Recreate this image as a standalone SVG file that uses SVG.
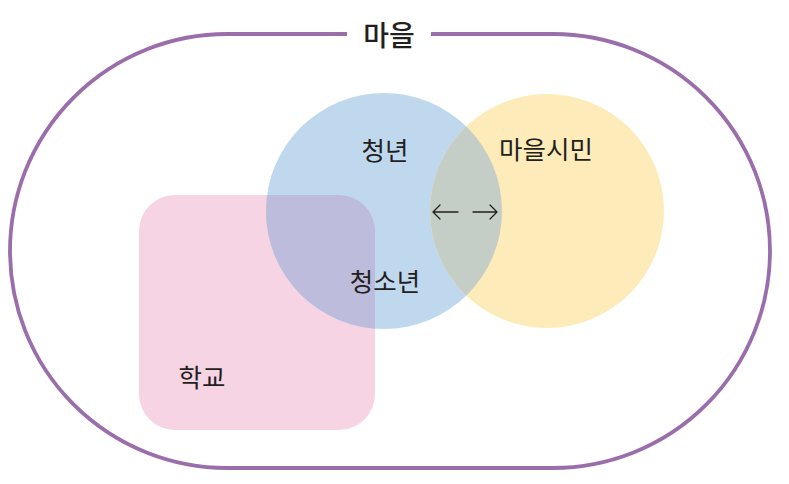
<svg xmlns="http://www.w3.org/2000/svg" width="789" height="484" viewBox="0 0 789 484">
<style>
.lbl{font-family:"Noto Sans CJK KR","Noto Sans",sans-serif;font-size:25.5px;fill:#231f20;text-anchor:middle;dominant-baseline:central}
.title{font-size:28px;font-weight:500}
.arr{fill:none;stroke:#231f20;stroke-width:1.3;stroke-linecap:round;stroke-linejoin:round}
</style>
<defs>
<clipPath id="cBlue"><circle cx="384" cy="211" r="118"/></clipPath>
</defs>
<rect width="789" height="484" fill="#ffffff"/>
<g id="village">
<path d="M347 34 H227 A217 217 0 0 0 227 468 H553 A217 217 0 0 0 553 34 H431" fill="none" stroke="#9a6dab" stroke-width="3.8"/>
<text class="lbl title" x="389" y="34">마을</text>
</g>
<g id="school">
<rect x="139" y="195" width="236" height="235" rx="36" fill="#f6d4e4"/>
</g>
<g id="youth">
<circle cx="384" cy="211" r="118" fill="#c0d8ee"/>
<rect x="139" y="195" width="236" height="235" rx="36" fill="#bdbcdd" clip-path="url(#cBlue)"/>
</g>
<g id="citizens">
<circle cx="547" cy="211" r="117" fill="#fdebb9"/>
<circle cx="547" cy="211" r="117" fill="#c5cec6" clip-path="url(#cBlue)"/>
</g>
<g id="labels">
<text class="lbl" x="385" y="148">청년</text>
<text class="lbl" x="546" y="147">마을시민</text>
<text class="lbl" x="385" y="279">청소년</text>
<text class="lbl" x="202" y="375">학교</text>
</g>
<g id="connectors">
<path class="arr" d="M458 212 H433 M440 205 L433 212 L440 219"/>
<path class="arr" d="M473 212 H497 M490 205 L497 212 L490 219"/>
</g>
</svg>
